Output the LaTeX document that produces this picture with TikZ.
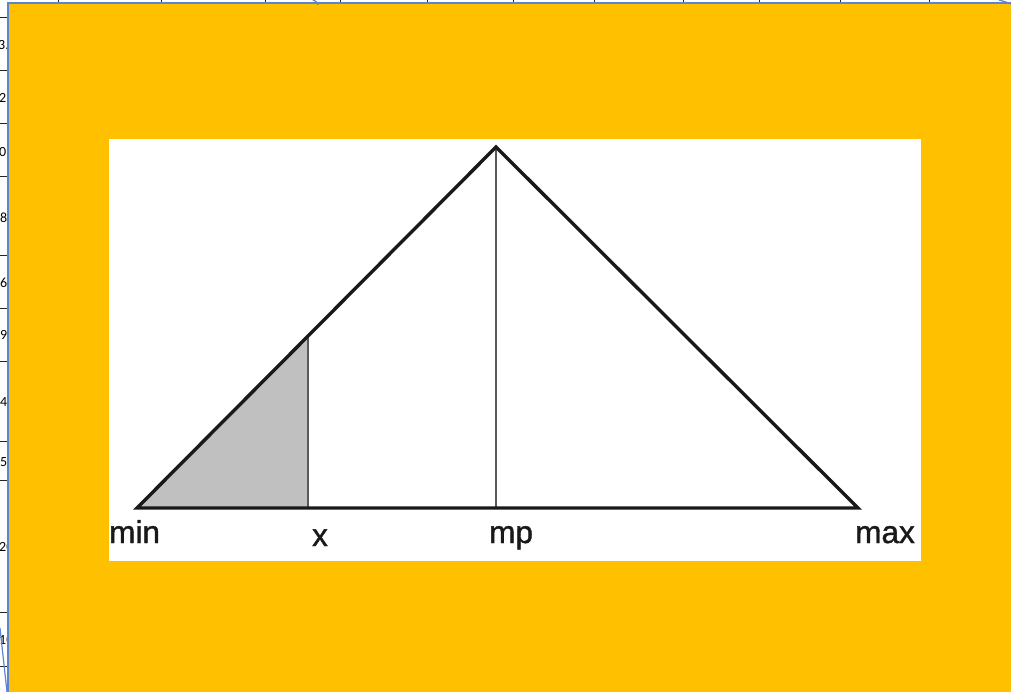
\documentclass[tikz,border=0pt]{standalone}
\usepackage{fontspec}
\setmainfont{Liberation Sans}
\newfontfamily\cellfont{Carlito}
\newfontfamily\lblfont[FakeBold=1.2]{Liberation Sans}
\definecolor{bgorange}{HTML}{FFC000}
\definecolor{xlblue}{HTML}{5B85D0}
\definecolor{areagray}{HTML}{C0C0C0}
\begin{document}
\begin{tikzpicture}[x=1pt,y=-1pt,
  edge/.style={line width=3.4pt,black!90,line join=miter},
  marker/.style={line width=2.2pt,black!65},
  lbl/.style={inner sep=0pt,text=black!90,font=\lblfont\fontsize{31.5}{36}\selectfont},
  cell/.style={inner sep=0pt,anchor=west,font=\cellfont\fontsize{14}{16}\selectfont},
  grid/.style={line width=0.8pt,black!85}]
\useasboundingbox (0,0) rectangle (1011,692);
\fill[white] (0,0) rectangle (1011,692);
% spreadsheet row lines (left)
\foreach \yy in {17,70,123,176,255,308,361,441,480,612,666}
  \draw[grid] (0,\yy) -- (8,\yy);
% spreadsheet column lines (top)
\foreach \xx in {58,161,265,340,427,513,594,683,759,840,929}
  \draw[grid] (\xx,0) -- (\xx,3);
% truncated cell values
\begin{scope}
  \clip (0,0) rectangle (8,692);
  \node[cell] (c1) at (-2,45) {3.};
  \node[cell] (c2) at (-1,98) {2.};
  \node[cell] (c3) at (-1,152) {0.};
  \node[cell] (c4) at (0,218) {8};
  \node[cell] (c5) at (0,283) {6.};
  \node[cell] (c6) at (0,335) {9.};
  \node[cell] (c7) at (0,402) {4.};
  \node[cell] (c8) at (0,462) {5.};
  \node[cell] (c9) at (-1,547) {20};
  \node[cell] (c10) at (-1,640) {10};
\end{scope}
% orange chart area
\fill[bgorange] (8,3) rectangle (1011,692);
\draw[xlblue,line width=1.2pt] (8,692) -- (8,3) -- (1011,3);
\draw[xlblue,line width=1.2pt] (0,628) -- (7,692);
\draw[xlblue,line width=1.2pt] (313,0) .. controls (317,2) .. (318,5);
\draw[xlblue,line width=1.2pt] (999,0) .. controls (1006,2) .. (1011,4);
% white picture
\fill[white] (109,139) rectangle (921,561);
% triangle
\coordinate (min) at (137,508);
\coordinate (peak) at (496,147);
\coordinate (max) at (858,508);
\coordinate (xb) at (308,508);
\coordinate (xt) at (308,336);
\coordinate (mpb) at (496,508);
\fill[areagray] (min) -- (xt) -- (xb) -- cycle;
\draw[marker] (xb) -- (xt);
\draw[marker] (mpb) -- (peak);
\draw[edge] (min) -- (peak) -- (max) -- cycle;
% labels
\node[lbl,anchor=base west] (lmin) at (109,543) {min};
\node[lbl,anchor=base] (lx) at (320,546) {x};
\node[lbl,anchor=base west] (lmp) at (489,543) {mp};
\node[lbl,anchor=base east] (lmax) at (915,543) {max};
\end{tikzpicture}
\end{document}
